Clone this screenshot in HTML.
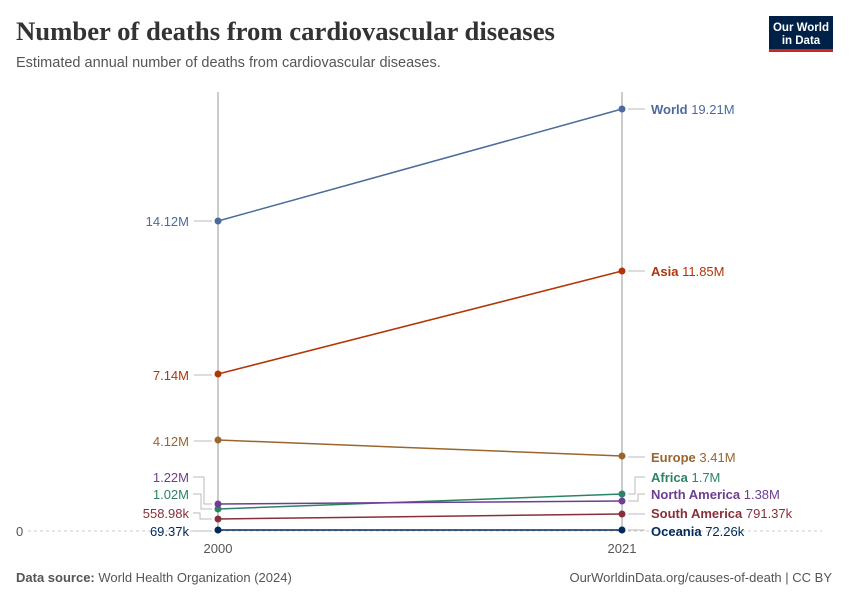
<!DOCTYPE html>
<html><head><meta charset="utf-8"><style>
body{margin:0;background:#fff;font-family:"Liberation Sans",sans-serif;}
</style></head><body>
<svg width="850" height="600" xmlns="http://www.w3.org/2000/svg" font-family="Liberation Sans, sans-serif">
<rect width="850" height="600" fill="#fff"/>
<text x="16" y="40" font-family="Liberation Serif, serif" font-size="26.7" font-weight="bold" fill="#333">Number of deaths from cardiovascular diseases</text>
<text x="16" y="67" font-size="14.5" fill="#555">Estimated annual number of deaths from cardiovascular diseases.</text>
<rect x="769" y="16" width="64" height="36" fill="#002147"/>
<rect x="769" y="49" width="64" height="3" fill="#ce261e"/>
<text x="801" y="31" font-size="11.5" font-weight="bold" fill="#fff" text-anchor="middle">Our World</text>
<text x="801" y="44" font-size="11.5" font-weight="bold" fill="#fff" text-anchor="middle">in Data</text>
<line x1="28" y1="531" x2="822" y2="531" stroke="#ccc" stroke-dasharray="3,3"/>
<text x="16" y="536" font-size="13" fill="#555">0</text>
<line x1="218" y1="92" x2="218" y2="531" stroke="#bbb" stroke-width="1.5"/>
<line x1="622" y1="92" x2="622" y2="531" stroke="#bbb" stroke-width="1.5"/>
<text x="218" y="553" font-size="13" fill="#555" text-anchor="middle">2000</text>
<text x="622" y="553" font-size="13" fill="#555" text-anchor="middle">2021</text>
<g stroke="#bbb" fill="none" stroke-width="1">
<path d="M194 221H212M194 375H212M194 441H212"/>
<path d="M193 477H204V504H212M193 494H201V509H212M193 513H200V519H212M193 531H212"/>
<path d="M628 109H645M628 271H645M628 457H645"/>
<path d="M628 494H635V477H645M628 501H638V494H645M628 514H645M628 530H645"/>
</g>
<g stroke-width="1.5" fill="none">
<line x1="218" y1="221" x2="622" y2="109" stroke="#4c6a9c"/>
<line x1="218" y1="374" x2="622" y2="271" stroke="#b13507"/>
<line x1="218" y1="440" x2="622" y2="456" stroke="#9a652e"/>
<line x1="218" y1="509" x2="622" y2="494" stroke="#2c8465"/>
<line x1="218" y1="504" x2="622" y2="501" stroke="#6d3e91"/>
<line x1="218" y1="519" x2="622" y2="514" stroke="#883039"/>
<line x1="218" y1="530" x2="622" y2="530" stroke="#00295b"/>
</g>
<g>
<circle cx="218" cy="221" r="3.5" fill="#4c6a9c"/><circle cx="622" cy="109" r="3.5" fill="#4c6a9c"/>
<circle cx="218" cy="374" r="3.5" fill="#b13507"/><circle cx="622" cy="271" r="3.5" fill="#b13507"/>
<circle cx="218" cy="440" r="3.5" fill="#9a652e"/><circle cx="622" cy="456" r="3.5" fill="#9a652e"/>
<circle cx="218" cy="509" r="3.5" fill="#2c8465"/><circle cx="622" cy="494" r="3.5" fill="#2c8465"/>
<circle cx="218" cy="504" r="3.5" fill="#6d3e91"/><circle cx="622" cy="501" r="3.5" fill="#6d3e91"/>
<circle cx="218" cy="519" r="3.5" fill="#883039"/><circle cx="622" cy="514" r="3.5" fill="#883039"/>
<circle cx="218" cy="530" r="3.5" fill="#00295b"/><circle cx="622" cy="530" r="3.5" fill="#00295b"/>
</g>
<g font-size="13" text-anchor="end">
<text x="189" y="226" fill="#4c6a9c">14.12M</text>
<text x="189" y="380" fill="#b13507">7.14M</text>
<text x="189" y="446" fill="#9a652e">4.12M</text>
<text x="189" y="482" fill="#6d3e91">1.22M</text>
<text x="189" y="499" fill="#2c8465">1.02M</text>
<text x="189" y="518" fill="#883039">558.98k</text>
<text x="189" y="536" fill="#00295b">69.37k</text>
</g>
<g font-size="13">
<text x="651" y="114" fill="#4c6a9c"><tspan font-weight="bold">World</tspan> 19.21M</text>
<text x="651" y="276" fill="#b13507"><tspan font-weight="bold">Asia</tspan> 11.85M</text>
<text x="651" y="462" fill="#9a652e"><tspan font-weight="bold">Europe</tspan> 3.41M</text>
<text x="651" y="482" fill="#2c8465"><tspan font-weight="bold">Africa</tspan> 1.7M</text>
<text x="651" y="499" fill="#6d3e91"><tspan font-weight="bold">North America</tspan> 1.38M</text>
<text x="651" y="518" fill="#883039"><tspan font-weight="bold">South America</tspan> 791.37k</text>
<text x="651" y="536" fill="#00295b"><tspan font-weight="bold">Oceania</tspan> 72.26k</text>
</g>
<text x="16" y="582" font-size="13" fill="#555"><tspan font-weight="bold">Data source:</tspan> World Health Organization (2024)</text>
<text x="832" y="582" font-size="13" fill="#555" text-anchor="end">OurWorldinData.org/causes-of-death | CC BY</text>
</svg>
</body></html>
